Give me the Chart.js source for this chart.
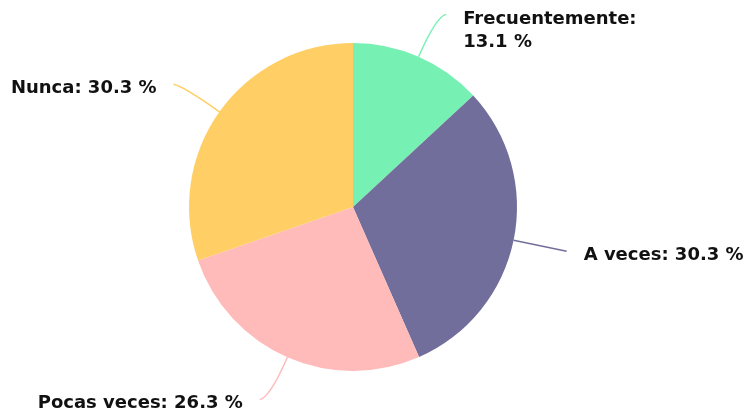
<!DOCTYPE html>
<html>
<head>
<meta charset="utf-8">
<script src="https://cdn.jsdelivr.net/npm/chart.js@4"></script>
<style>
  html, body { margin: 0; padding: 0; background: #fff; }
  #wrap { width: 749px; height: 415px; }
</style>
</head>
<body>
<div id="wrap"><canvas id="pie"></canvas></div>
<script>
var categories = ["Frecuentemente", "A veces", "Pocas veces", "Nunca"];
var percents = [13.1, 30.3, 26.3, 30.3];
var colors = ["#77f0b4", "#726e9b", "#ffbaba", "#ffcf66"];

// leader lines + labels
var leaderLabels = {
  id: 'leaderLabels',
  afterDatasetsDraw: function(chart) {
    var ctx = chart.ctx;
    var meta = chart.getDatasetMeta(0);
    ctx.save();
    ctx.font = 'bold 18px "DejaVu Sans"';
    ctx.textBaseline = 'middle';
    meta.data.forEach(function(arc, i) {
      var mid = (arc.startAngle + arc.endAngle) / 2;
      var cx = arc.x, cy = arc.y, r = arc.outerRadius;
      var c = Math.cos(mid), s = Math.sin(mid);
      var sx = cx + r * c, sy = cy + r * s;
      var qx = cx + (r + 44) * c, qy = cy + (r + 44) * s;
      var right = c >= 0;
      var ex = qx + (right ? 10 : -10);
      var ey = qy + (s > 0 ? 2 : -2);
      ctx.strokeStyle = colors[i];
      ctx.lineWidth = 1.5;
      ctx.beginPath();
      ctx.moveTo(sx, sy);
      ctx.quadraticCurveTo(qx, qy, ex, ey);
      ctx.stroke();

      var text = categories[i] + ': ' + percents[i].toFixed(1) + ' %';
      ctx.fillStyle = '#111';
      var tx = right ? ex + 17 : ex - 17;
      ctx.textAlign = right ? 'left' : 'right';
      var w = ctx.measureText(text).width;
      if (w > 220) {
        ctx.fillText(categories[i] + ':', tx, ey + 5);
        ctx.fillText(percents[i].toFixed(1) + ' %', tx, ey + 28);
      } else {
        ctx.fillText(text, tx, ey + 4);
      }
    });
    ctx.restore();
  }
};

new Chart(document.getElementById('pie'), {
  type: 'pie',
  data: {
    labels: categories,
    datasets: [{
      data: percents,
      backgroundColor: colors,
      borderWidth: 0
    }]
  },
  options: {
    responsive: true,
    maintainAspectRatio: false,
    animation: false,
    layout: { padding: { top: 43, bottom: 44, left: 0, right: 43 } },
    plugins: {
      legend: { display: false },
      tooltip: { enabled: false }
    }
  },
  plugins: [leaderLabels]
});
</script>
</body>
</html>
